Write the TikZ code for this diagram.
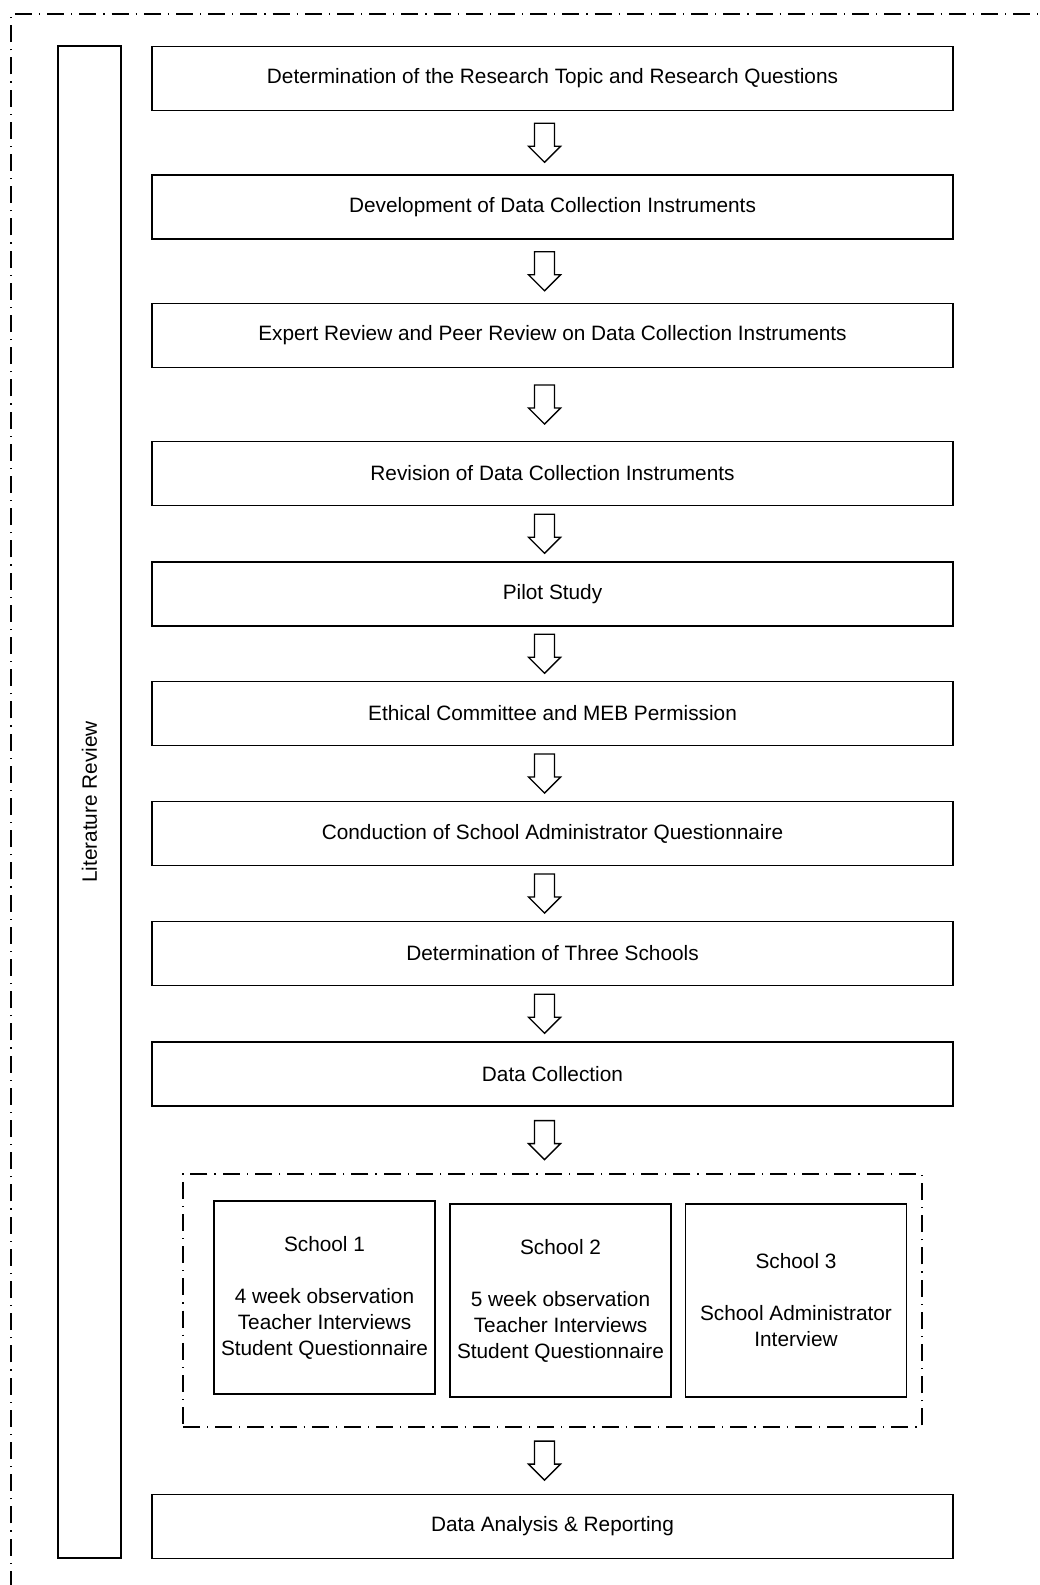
\documentclass[tikz,border=0pt]{standalone}
\usepackage{fontspec}
\setmainfont{Liberation Sans}
\usetikzlibrary{calc}

\begin{document}
\begin{tikzpicture}[
    x=0.5pt, y=-0.5pt,
    font=\fontsize{10.4pt}{13pt}\selectfont,
    stagebox/.style={draw, line width=0.9pt, minimum width=400.5pt, minimum height=32pt,
                     align=center, inner sep=0pt},
    litbox/.style={draw, line width=0.9pt, minimum width=756pt, minimum height=31.5pt,
                   inner sep=0pt, rotate=90},
    schoolbox/.style={draw, line width=0.9pt, minimum width=110.5pt, minimum height=96.5pt,
                      align=center, inner sep=0pt},
    dashdot/.style={line width=0.6pt, dash pattern=on 8.5pt off 3.5pt on 0.6pt off 3.5pt},
    blockarrow/.pic={\draw[line width=0.7pt, fill=white, line join=miter]
        (-10,-19.5) -- (10,-19.5) -- (10,3.5) -- (16,3.5) -- (0,19.5)
        -- (-16,3.5) -- (-10,3.5) -- cycle;}
]
\useasboundingbox (0,0) rectangle (1039,1585);

% outer frame, cut by the page edge
\draw[dashdot] (11,1620) -- (11,14) -- (1080,14);

\node[litbox] (lit) at (89.5,802) {Literature Review};

% research stages
\node[stagebox] (topic)  at (552.5,78.5)  {Determination of the Research Topic and Research Questions};
\node[stagebox] (dev)    at (552.5,207)   {Development of Data Collection Instruments};
\node[stagebox] (expert) at (552.5,335.5) {Expert Review and Peer Review on Data Collection Instruments};
\node[stagebox] (rev)    at (552.5,473.5) {Revision of Data Collection Instruments};
\node[stagebox] (pilot)  at (552.5,594)   {Pilot Study};
\node[stagebox] (ethic)  at (552.5,713.5) {Ethical Committee and MEB Permission};
\node[stagebox] (admin)  at (552.5,833.5) {Conduction of School Administrator Questionnaire};
\node[stagebox] (three)  at (552.5,953.5) {Determination of Three Schools};
\node[stagebox] (collect) at (552.5,1074) {Data Collection};

% schools
\node[draw, dashdot, minimum width=369.5pt, minimum height=126.5pt, inner sep=0pt] (grp) at (552.5,1300.5) {};
\node[schoolbox] (s1) at (324.5,1297.5) {School 1\\[13pt]4 week observation\\Teacher Interviews\\Student Questionnaire};
\node[schoolbox] (s2) at (560.5,1300.5) {School 2\\[13pt]5 week observation\\Teacher Interviews\\Student Questionnaire};
\node[schoolbox] (s3) at (796,1300.5)   {School 3\\[13pt]School Administrator\\Interview};

\node[stagebox] (report) at (552.5,1526.5) {Data Analysis \& Reporting};

% block arrows between the stages
\foreach \a/\b in {topic/dev, dev/expert, expert/rev, rev/pilot, pilot/ethic,
                   ethic/admin, admin/three, three/collect, collect/grp, grp/report}
    \pic at ($(\a.south)!0.5!(\b.north)+(-8,0)$) {blockarrow};

\end{tikzpicture}
\end{document}
